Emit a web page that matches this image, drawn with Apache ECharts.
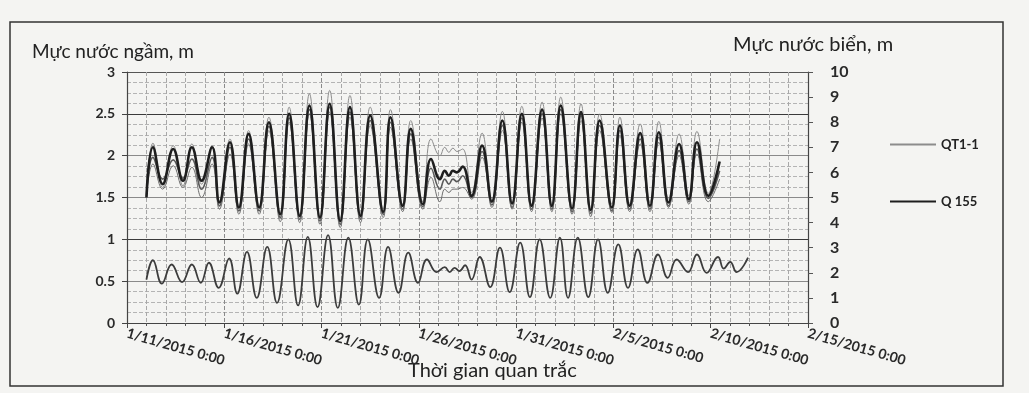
<!DOCTYPE html>
<html>
<head>
<meta charset="utf-8">
<script src="https://cdn.jsdelivr.net/npm/echarts@6/dist/echarts.min.js"></script>
<style>
html,body{margin:0;padding:0;background:#f3f3f1;}
#chart{width:1029px;height:393px;}
</style>
</head>
<body>
<div id="chart"></div>
<script>
// ---- Tick labels of the time axis (every 5 days from 1/11/2015) ----
const xTickLabels = ['1/11/2015 0:00','1/16/2015 0:00','1/21/2015 0:00','1/26/2015 0:00',
  '1/31/2015 0:00','2/5/2015 0:00','2/10/2015 0:00','2/15/2015 0:00'];

// ---- Groundwater observations (peaks / troughs), m ----
const gwTimes = [
  '2015-01-12 00:00','2015-01-12 08:00','2015-01-12 20:00','2015-01-13 09:00','2015-01-13 21:00',
  '2015-01-14 08:00','2015-01-14 20:00','2015-01-15 09:00','2015-01-15 18:00','2015-01-16 07:00',
  '2015-01-16 18:00','2015-01-17 06:00','2015-01-17 19:00','2015-01-18 07:00','2015-01-18 21:00',
  '2015-01-19 08:00','2015-01-19 21:00','2015-01-20 09:00','2015-01-20 22:00','2015-01-21 10:00',
  '2015-01-21 23:00','2015-01-22 11:00','2015-01-23 00:00','2015-01-23 12:00','2015-01-24 04:00',
  '2015-01-24 13:00','2015-01-25 04:00','2015-01-25 14:00','2015-01-26 05:00','2015-01-26 15:00',
  '2015-01-27 02:00','2015-01-27 08:00','2015-01-27 13:00','2015-01-27 18:00','2015-01-27 23:00',
  '2015-01-28 06:00','2015-01-28 17:00','2015-01-29 06:00','2015-01-29 18:00','2015-01-30 07:00',
  '2015-01-30 19:00','2015-01-31 07:00','2015-01-31 19:00','2015-02-01 08:00','2015-02-01 20:00',
  '2015-02-02 07:00','2015-02-02 21:00','2015-02-03 08:00','2015-02-03 20:00','2015-02-04 07:00',
  '2015-02-04 22:00','2015-02-05 08:00','2015-02-05 20:00','2015-02-06 09:00','2015-02-06 21:00',
  '2015-02-07 08:00','2015-02-07 20:00','2015-02-08 09:00','2015-02-08 21:00','2015-02-09 07:00',
  '2015-02-09 21:00','2015-02-10 11:00'];

const qt11 = [ // thin light line (QT1-1)
  1.55,2.15,1.62,2.12,1.64, 2.14,1.66,2.12,1.46,2.20, 1.40,2.30,1.40,2.46,1.32,
  2.58,1.30,2.74,1.28,2.78, 1.25,2.72,1.30,2.58,1.36, 2.55,1.42,2.42,1.45,2.20,
  2.00,2.10,2.04,2.09,2.05, 2.08,1.56,2.27,1.46,2.53, 1.44,2.59,1.42,2.64,1.42,
  2.70,1.40,2.62,1.38,2.50, 1.42,2.46,1.43,2.38,1.44, 2.41,1.48,2.26,1.52,2.29,
  1.55,2.20];
const q155 = [ // thick dark line (Q 155)
  1.50,2.10,1.66,2.08,1.70, 2.10,1.70,2.10,1.44,2.16, 1.38,2.26,1.38,2.40,1.30,
  2.50,1.28,2.60,1.26,2.62, 1.22,2.58,1.28,2.48,1.33, 2.46,1.40,2.32,1.42,1.96,
  1.72,1.82,1.76,1.82,1.80, 1.87,1.52,2.12,1.45,2.42, 1.43,2.50,1.40,2.55,1.40,
  2.60,1.37,2.52,1.35,2.42, 1.38,2.36,1.40,2.27,1.40, 2.28,1.44,2.14,1.48,2.16,
  1.52,1.93];
const qt12 = [ // medium grey line
  1.52,1.98,1.72,1.95,1.73, 1.96,1.60,1.98,1.40,2.10, 1.34,2.20,1.34,2.35,1.26,
  2.45,1.24,2.55,1.22,2.58, 1.18,2.52,1.24,2.42,1.30, 2.40,1.36,2.26,1.39,1.85,
  1.60,1.72,1.66,1.72,1.69, 1.76,1.50,2.05,1.41,2.36, 1.38,2.45,1.36,2.50,1.36,
  2.55,1.33,2.48,1.31,2.36, 1.34,2.30,1.36,2.20,1.36, 2.22,1.40,2.06,1.45,2.08,
  1.49,1.82];
const qt13 = [ // lower thin line
  1.50,1.90,1.60,1.88,1.62, 1.86,1.50,1.90,1.36,2.02, 1.30,2.14,1.30,2.30,1.21,
  2.40,1.20,2.50,1.18,2.52, 1.14,2.46,1.20,2.36,1.26, 2.34,1.33,2.20,1.36,1.74,
  1.45,1.60,1.56,1.60,1.60, 1.62,1.48,1.98,1.38,2.30, 1.36,2.40,1.33,2.45,1.33,
  2.50,1.30,2.42,1.27,2.30, 1.32,2.24,1.33,2.14,1.33, 2.16,1.38,2.00,1.42,2.02,
  1.45,1.72];

// ---- Sea level (right axis), m ----
const seaTimes = [
  '2015-01-12 00:00','2015-01-12 08:00','2015-01-12 19:00','2015-01-13 07:00','2015-01-13 20:00',
  '2015-01-14 08:00','2015-01-14 19:00','2015-01-15 05:00','2015-01-15 17:00','2015-01-16 06:00',
  '2015-01-16 16:00','2015-01-17 04:00','2015-01-17 16:00','2015-01-18 05:00','2015-01-18 17:00',
  '2015-01-19 07:00','2015-01-19 19:00','2015-01-20 07:00','2015-01-20 19:00','2015-01-21 08:00',
  '2015-01-21 20:00','2015-01-22 09:00','2015-01-22 22:00','2015-01-23 09:00','2015-01-23 23:00',
  '2015-01-24 10:00','2015-01-24 23:00','2015-01-25 11:00','2015-01-25 23:00','2015-01-26 10:00',
  '2015-01-26 22:00','2015-01-27 08:00','2015-01-27 14:00','2015-01-27 20:00','2015-01-28 02:00',
  '2015-01-28 09:00','2015-01-28 17:00','2015-01-29 03:00','2015-01-29 16:00','2015-01-30 04:00',
  '2015-01-30 16:00','2015-01-31 05:00','2015-01-31 17:00','2015-02-01 05:00','2015-02-01 18:00',
  '2015-02-02 06:00','2015-02-02 16:00','2015-02-03 04:00','2015-02-03 17:00','2015-02-04 05:00',
  '2015-02-04 17:00','2015-02-05 06:00','2015-02-05 18:00','2015-02-06 06:00','2015-02-06 18:00',
  '2015-02-07 07:00','2015-02-07 19:00','2015-02-08 06:00','2015-02-08 20:00','2015-02-09 07:00',
  '2015-02-09 19:00','2015-02-10 09:00','2015-02-10 16:00','2015-02-11 00:00','2015-02-11 08:00',
  '2015-02-11 22:00'];
const seaLevel = [
  1.73,2.50,1.57,2.33,1.63, 2.33,1.60,2.40,1.40,2.57, 1.17,2.83,1.00,3.03,0.80,
  3.33,0.70,3.43,0.63,3.50, 0.60,3.40,0.73,3.33,1.00, 3.03,1.20,2.80,1.60,2.53,
  2.03,2.23,2.03,2.20,2.07, 2.30,1.73,2.63,1.43,3.00, 1.23,3.20,1.03,3.33,1.00,
  3.40,1.00,3.40,1.03,3.33, 1.20,3.13,1.40,2.93,1.60, 2.73,1.80,2.53,2.03,2.73,
  2.00,2.63,2.17,2.43,2.03, 2.60];

// ---- helpers ----
function dayOffset(s){
  const [d,t] = s.split(' ');
  const [y,m,dd] = d.split('-').map(Number);
  const [hh,mm] = t.split(':').map(Number);
  return (Date.UTC(y,m-1,dd,hh,mm) - Date.UTC(2015,0,11)) / 86400000;
}
function pairs(times, vals){ return times.map((t,i)=>[dayOffset(t), vals[i]]); }

const FONT = 'Lato, "DejaVu Sans", sans-serif';
const chart = echarts.init(document.getElementById('chart'));

const lineSeries = (name, times, vals, color, width, yIdx, z) => ({
  name, type:'line', yAxisIndex:yIdx, data:pairs(times, vals),
  smooth:0.45, symbol:'none', showSymbol:false, z:z||2,
  lineStyle:{color, width}, itemStyle:{color}
});

chart.setOption({
  backgroundColor:'#f4f4f2',
  animation:false,
  grid:{left:127, right:221, top:72, bottom:70, show:false},
  legend:{
    data:['QT1-1','Q 155'], orient:'vertical', left:884, top:133,
    itemWidth:46, itemHeight:14, itemGap:44,
    itemStyle:{color:'rgba(0,0,0,0)', borderWidth:0, opacity:0},
    textStyle:{fontFamily:FONT, fontSize:13, fontWeight:'bold', color:'#222'}
  },
  xAxis:{
    type:'value', min:0, max:35, interval:5,
    axisLine:{show:true, onZero:false, lineStyle:{color:'#444', width:1.2}},
    axisTick:{show:true, length:5, lineStyle:{color:'#444'}},
    minorTick:{show:true, splitNumber:5, length:3, lineStyle:{color:'#555'}},
    splitLine:{show:true, lineStyle:{color:'#8a8a8a', width:1, type:'dashed'}},
    minorSplitLine:{show:true, lineStyle:{color:'#a8a8a8', width:1, type:'dashed'}},
    axisLabel:{
      rotate:-16, margin:10, fontFamily:FONT, fontSize:14, fontWeight:'bold', color:'#2a2a2a',
      formatter:(v)=> xTickLabels[Math.round(v/5)]
    }
  },
  yAxis:[{
    type:'value', min:0, max:3, interval:0.5,
    axisLine:{show:true, lineStyle:{color:'#444', width:1.2}},
    axisTick:{show:true, length:5, lineStyle:{color:'#444'}},
    splitLine:{show:true, lineStyle:{color:['#666','#8a8a8a','#3a3a3a','#8a8a8a','#8a8a8a','#3a3a3a','#555'], width:1.2}},
    minorTick:{show:false, splitNumber:4},
    minorSplitLine:{show:true, lineStyle:{color:'#b4b4b4', width:1, type:'dashed'}},
    axisLabel:{fontFamily:FONT, fontSize:14, fontWeight:'bold', color:'#2a2a2a', margin:12}
  },{
    type:'value', min:0, max:10, interval:1, position:'right',
    axisLine:{show:true, lineStyle:{color:'#444', width:1.2}},
    axisTick:{show:true, length:5, lineStyle:{color:'#555'}},
    splitLine:{show:false},
    axisLabel:{fontFamily:FONT, fontSize:16, fontWeight:'bold', color:'#2a2a2a', margin:22}
  }],
  graphic:[
    {type:'rect', silent:true, z:100, shape:{x:10, y:22, width:993, height:364},
     style:{fill:'none', stroke:'#333', lineWidth:1.5}},
    {type:'text', left:32, top:42, silent:true,
     style:{text:'Mực nước ngầm, m', font:'19px '+FONT, fill:'#222'}},
    {type:'text', left:733, top:35, silent:true,
     style:{text:'Mực nước biển, m', font:'20px '+FONT, fill:'#222'}},
    {type:'text', left:408, top:361, silent:true,
     style:{text:'Thời gian quan trắc', font:'20px '+FONT, fill:'#222'}}
  ],
  series:[
    lineSeries('QT1-1', gwTimes, qt11, '#8c8c8c', 1, 0, 2),
    lineSeries('QT1-2', gwTimes, qt12, '#5a5a5a', 1.6, 0, 3),
    lineSeries('QT1-3', gwTimes, qt13, '#6e6e6e', 1, 0, 3),
    lineSeries('Q 155', gwTimes, q155, '#1e1e1e', 2.6, 0, 4),
    lineSeries('Mực nước biển', seaTimes, seaLevel, '#3c3c3c', 1.8, 1, 4)
  ]
});
</script>
</body>
</html>
